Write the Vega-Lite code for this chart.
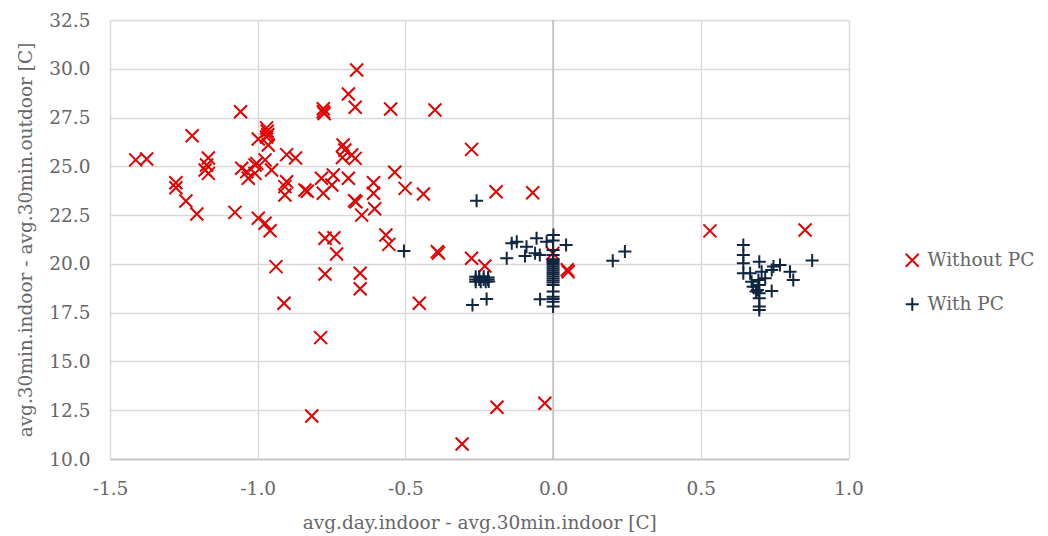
{
  "$schema": "https://vega.github.io/schema/vega-lite/v6.json",
  "width": 738.5,
  "height": 439,
  "autosize": {"type": "none"},
  "padding": {"left": 110, "top": 20, "right": 199.5, "bottom": 77},
  "background": "white",
  "config": {
    "font": "DejaVu Serif",
    "view": {"stroke": null},
    "axis": {
      "labelFont": "DejaVu Serif",
      "titleFont": "DejaVu Serif",
      "labelFontSize": 18.5,
      "titleFontSize": 18.5,
      "titleFontWeight": "normal",
      "labelColor": "#666666",
      "titleColor": "#666666",
      "gridColor": "#d9d9d9",
      "gridWidth": 1.4,
      "ticks": false,
      "labelFlush": false
    },
    "legend": {
      "labelFont": "DejaVu Serif",
      "labelFontSize": 18.5,
      "labelColor": "#666666"
    }
  },
  "data": {
    "values": [
      {"g": "Without PC", "x": -1.413, "y": 25.33},
      {"g": "Without PC", "x": -1.376, "y": 25.38},
      {"g": "Without PC", "x": -1.277, "y": 24.16},
      {"g": "Without PC", "x": -1.277, "y": 23.9},
      {"g": "Without PC", "x": -1.243, "y": 23.22},
      {"g": "Without PC", "x": -1.222, "y": 26.57},
      {"g": "Without PC", "x": -1.206, "y": 22.56},
      {"g": "Without PC", "x": -1.167, "y": 25.43},
      {"g": "Without PC", "x": -1.173, "y": 25.07},
      {"g": "Without PC", "x": -1.178, "y": 24.81},
      {"g": "Without PC", "x": -1.167, "y": 24.64},
      {"g": "Without PC", "x": -1.077, "y": 22.64},
      {"g": "Without PC", "x": -1.058, "y": 27.8},
      {"g": "Without PC", "x": -1.054, "y": 24.9},
      {"g": "Without PC", "x": -1.037, "y": 24.73},
      {"g": "Without PC", "x": -1.032, "y": 24.39},
      {"g": "Without PC", "x": -1.009, "y": 25.07},
      {"g": "Without PC", "x": -1.003, "y": 25.15},
      {"g": "Without PC", "x": -1.009, "y": 24.64},
      {"g": "Without PC", "x": -0.998, "y": 26.4},
      {"g": "Without PC", "x": -0.97, "y": 26.97},
      {"g": "Without PC", "x": -0.968, "y": 26.8},
      {"g": "Without PC", "x": -0.966, "y": 26.62},
      {"g": "Without PC", "x": -0.97, "y": 26.5},
      {"g": "Without PC", "x": -0.964, "y": 26.09},
      {"g": "Without PC", "x": -0.975, "y": 25.33},
      {"g": "Without PC", "x": -0.953, "y": 24.81},
      {"g": "Without PC", "x": -0.902, "y": 25.6},
      {"g": "Without PC", "x": -0.872, "y": 25.43},
      {"g": "Without PC", "x": -0.902, "y": 24.21},
      {"g": "Without PC", "x": -0.908, "y": 23.96},
      {"g": "Without PC", "x": -0.908, "y": 23.53},
      {"g": "Without PC", "x": -0.998, "y": 22.34},
      {"g": "Without PC", "x": -0.975, "y": 22.08},
      {"g": "Without PC", "x": -0.958, "y": 21.7},
      {"g": "Without PC", "x": -0.938, "y": 19.86},
      {"g": "Without PC", "x": -0.911, "y": 17.98},
      {"g": "Without PC", "x": -0.84, "y": 23.79},
      {"g": "Without PC", "x": -0.832, "y": 23.72},
      {"g": "Without PC", "x": -0.778, "y": 27.8},
      {"g": "Without PC", "x": -0.778, "y": 27.95},
      {"g": "Without PC", "x": -0.775, "y": 27.7},
      {"g": "Without PC", "x": -0.784, "y": 24.39},
      {"g": "Without PC", "x": -0.778, "y": 23.62},
      {"g": "Without PC", "x": -0.772, "y": 21.31},
      {"g": "Without PC", "x": -0.772, "y": 19.48},
      {"g": "Without PC", "x": -0.787, "y": 16.22},
      {"g": "Without PC", "x": -0.817, "y": 12.2},
      {"g": "Without PC", "x": -0.744, "y": 24.56},
      {"g": "Without PC", "x": -0.749, "y": 24.04},
      {"g": "Without PC", "x": -0.742, "y": 21.34},
      {"g": "Without PC", "x": -0.733, "y": 20.51},
      {"g": "Without PC", "x": -0.711, "y": 26.09},
      {"g": "Without PC", "x": -0.705, "y": 25.84},
      {"g": "Without PC", "x": -0.713, "y": 25.45},
      {"g": "Without PC", "x": -0.693, "y": 28.71},
      {"g": "Without PC", "x": -0.693, "y": 24.39},
      {"g": "Without PC", "x": -0.682, "y": 25.58},
      {"g": "Without PC", "x": -0.67, "y": 25.41},
      {"g": "Without PC", "x": -0.665, "y": 29.94},
      {"g": "Without PC", "x": -0.67, "y": 28.03},
      {"g": "Without PC", "x": -0.672, "y": 23.24},
      {"g": "Without PC", "x": -0.667, "y": 23.18},
      {"g": "Without PC", "x": -0.653, "y": 19.52},
      {"g": "Without PC", "x": -0.653, "y": 18.73},
      {"g": "Without PC", "x": -0.648, "y": 22.5},
      {"g": "Without PC", "x": -0.608, "y": 24.16},
      {"g": "Without PC", "x": -0.608, "y": 23.62},
      {"g": "Without PC", "x": -0.604, "y": 22.83},
      {"g": "Without PC", "x": -0.566, "y": 21.48},
      {"g": "Without PC", "x": -0.556, "y": 21.0},
      {"g": "Without PC", "x": -0.55, "y": 27.94},
      {"g": "Without PC", "x": -0.536, "y": 24.7},
      {"g": "Without PC", "x": -0.501, "y": 23.87},
      {"g": "Without PC", "x": -0.453, "y": 17.98},
      {"g": "Without PC", "x": -0.439, "y": 23.58},
      {"g": "Without PC", "x": -0.4, "y": 27.89},
      {"g": "Without PC", "x": -0.392, "y": 20.63},
      {"g": "Without PC", "x": -0.388, "y": 20.55},
      {"g": "Without PC", "x": -0.308, "y": 10.77},
      {"g": "Without PC", "x": -0.276, "y": 25.87},
      {"g": "Without PC", "x": -0.276, "y": 20.29},
      {"g": "Without PC", "x": -0.231, "y": 19.89},
      {"g": "Without PC", "x": -0.193, "y": 23.7},
      {"g": "Without PC", "x": -0.19, "y": 12.65},
      {"g": "Without PC", "x": -0.069, "y": 23.65},
      {"g": "Without PC", "x": -0.028, "y": 12.86},
      {"g": "Without PC", "x": -0.001, "y": 20.54},
      {"g": "Without PC", "x": 0.051, "y": 19.6},
      {"g": "Without PC", "x": 0.048, "y": 19.7},
      {"g": "Without PC", "x": 0.531, "y": 21.69},
      {"g": "Without PC", "x": 0.853, "y": 21.74},
      {"g": "With PC", "x": -0.505, "y": 20.66},
      {"g": "With PC", "x": -0.259, "y": 23.24},
      {"g": "With PC", "x": -0.273, "y": 17.89},
      {"g": "With PC", "x": -0.225, "y": 18.2},
      {"g": "With PC", "x": -0.262, "y": 19.34},
      {"g": "With PC", "x": -0.262, "y": 19.2},
      {"g": "With PC", "x": -0.262, "y": 19.09},
      {"g": "With PC", "x": -0.25, "y": 19.34},
      {"g": "With PC", "x": -0.25, "y": 19.2},
      {"g": "With PC", "x": -0.245, "y": 19.09},
      {"g": "With PC", "x": -0.235, "y": 19.34},
      {"g": "With PC", "x": -0.235, "y": 19.2},
      {"g": "With PC", "x": -0.228, "y": 19.09},
      {"g": "With PC", "x": -0.22, "y": 19.3},
      {"g": "With PC", "x": -0.22, "y": 19.2},
      {"g": "With PC", "x": -0.218, "y": 19.1},
      {"g": "With PC", "x": -0.157, "y": 20.29},
      {"g": "With PC", "x": -0.14, "y": 21.06},
      {"g": "With PC", "x": -0.123, "y": 21.14},
      {"g": "With PC", "x": -0.09, "y": 20.88},
      {"g": "With PC", "x": -0.095, "y": 20.41},
      {"g": "With PC", "x": -0.061, "y": 20.54},
      {"g": "With PC", "x": -0.056, "y": 21.31},
      {"g": "With PC", "x": -0.022, "y": 21.14},
      {"g": "With PC", "x": -0.045, "y": 20.45},
      {"g": "With PC", "x": 0.001, "y": 21.48},
      {"g": "With PC", "x": 0.0, "y": 21.2},
      {"g": "With PC", "x": 0.044, "y": 20.97},
      {"g": "With PC", "x": -0.044, "y": 18.19},
      {"g": "With PC", "x": 0.0, "y": 20.71},
      {"g": "With PC", "x": 0.0, "y": 20.45},
      {"g": "With PC", "x": 0.0, "y": 20.24},
      {"g": "With PC", "x": 0.0, "y": 20.15},
      {"g": "With PC", "x": 0.0, "y": 20.05},
      {"g": "With PC", "x": 0.0, "y": 19.95},
      {"g": "With PC", "x": 0.0, "y": 19.85},
      {"g": "With PC", "x": 0.0, "y": 19.75},
      {"g": "With PC", "x": 0.0, "y": 19.65},
      {"g": "With PC", "x": 0.0, "y": 19.55},
      {"g": "With PC", "x": 0.0, "y": 19.45},
      {"g": "With PC", "x": 0.0, "y": 19.35},
      {"g": "With PC", "x": 0.0, "y": 19.25},
      {"g": "With PC", "x": 0.0, "y": 19.15},
      {"g": "With PC", "x": 0.0, "y": 19.05},
      {"g": "With PC", "x": 0.0, "y": 18.92},
      {"g": "With PC", "x": 0.0, "y": 18.58},
      {"g": "With PC", "x": 0.0, "y": 18.32},
      {"g": "With PC", "x": 0.0, "y": 18.2},
      {"g": "With PC", "x": 0.0, "y": 18.06},
      {"g": "With PC", "x": 0.0, "y": 17.81},
      {"g": "With PC", "x": 0.202, "y": 20.16},
      {"g": "With PC", "x": 0.243, "y": 20.63},
      {"g": "With PC", "x": 0.644, "y": 20.97},
      {"g": "With PC", "x": 0.644, "y": 20.46},
      {"g": "With PC", "x": 0.644, "y": 20.03},
      {"g": "With PC", "x": 0.644, "y": 19.52},
      {"g": "With PC", "x": 0.667, "y": 19.52},
      {"g": "With PC", "x": 0.672, "y": 19.09},
      {"g": "With PC", "x": 0.677, "y": 18.83},
      {"g": "With PC", "x": 0.687, "y": 18.58},
      {"g": "With PC", "x": 0.698, "y": 20.11},
      {"g": "With PC", "x": 0.706, "y": 19.6},
      {"g": "With PC", "x": 0.695, "y": 19.17},
      {"g": "With PC", "x": 0.698, "y": 18.92},
      {"g": "With PC", "x": 0.692, "y": 18.66},
      {"g": "With PC", "x": 0.698, "y": 18.49},
      {"g": "With PC", "x": 0.698, "y": 18.24},
      {"g": "With PC", "x": 0.698, "y": 17.81},
      {"g": "With PC", "x": 0.698, "y": 17.64},
      {"g": "With PC", "x": 0.718, "y": 19.26},
      {"g": "With PC", "x": 0.74, "y": 19.69},
      {"g": "With PC", "x": 0.74, "y": 18.61},
      {"g": "With PC", "x": 0.746, "y": 19.86},
      {"g": "With PC", "x": 0.768, "y": 19.94},
      {"g": "With PC", "x": 0.802, "y": 19.6},
      {"g": "With PC", "x": 0.813, "y": 19.17},
      {"g": "With PC", "x": 0.877, "y": 20.18}
    ]
  },
  "layer": [
    {
      "data": {"values": [{}]},
      "mark": {"type": "rule", "color": "#bfbfbf", "strokeWidth": 1.5},
      "encoding": {
        "x": {
          "datum": 0,
          "type": "quantitative",
          "scale": {"domain": [-1.5, 1.0], "nice": false, "zero": false},
          "axis": {
            "grid": true,
            "values": [-1.5, -1.0, -0.5, 0, 0.5, 1.0],
            "labelExpr": "replace(format(datum.value, '.1f'), '\u2212', '-')",
            "title": "avg.day.indoor - avg.30min.indoor [C]",
            "domainColor": "#bfbfbf",
            "domainWidth": 1.5,
            "labelPadding": 20,
            "titlePadding": 16
          }
        }
      }
    },
    {
      "mark": {"type": "point", "filled": false, "strokeWidth": 2, "size": 169, "opacity": 1},
      "encoding": {
        "x": {
          "field": "x",
          "type": "quantitative",
          "scale": {"domain": [-1.5, 1.0], "nice": false, "zero": false},
          "axis": {
            "grid": true,
            "values": [-1.5, -1.0, -0.5, 0, 0.5, 1.0],
            "labelExpr": "replace(format(datum.value, '.1f'), '\u2212', '-')",
            "title": "avg.day.indoor - avg.30min.indoor [C]",
            "domainColor": "#bfbfbf",
            "domainWidth": 1.5,
            "labelPadding": 20,
            "titlePadding": 16
          }
        },
        "y": {
          "field": "y",
          "type": "quantitative",
          "scale": {"domain": [10, 32.5], "nice": false, "zero": false},
          "axis": {
            "grid": true,
            "values": [10, 12.5, 15, 17.5, 20, 22.5, 25, 27.5, 30, 32.5],
            "format": ".1f",
            "title": "avg.30min.indoor - avg.30min.outdoor [C]",
            "domain": false,
            "labelPadding": 20,
            "titlePadding": 13
          }
        },
        "color": {
          "field": "g",
          "type": "nominal",
          "scale": {"domain": ["Without PC", "With PC"], "range": ["#e00000", "#0f2540"]},
          "legend": {
            "title": null,
            "orient": "none",
            "legendX": 793,
            "legendY": 231,
            "padding": 0,
            "symbolSize": 169,
            "symbolStrokeWidth": 2,
            "symbolFillColor": "transparent",
            "labelOffset": 6,
            "rowPadding": 22
          }
        },
        "shape": {
          "field": "g",
          "type": "nominal",
          "scale": {"domain": ["Without PC", "With PC"], "range": ["M-1,-1L1,1M1,-1L-1,1", "M-1,0L1,0M0,-1L0,1"]}
        }
      }
    }
  ]
}
